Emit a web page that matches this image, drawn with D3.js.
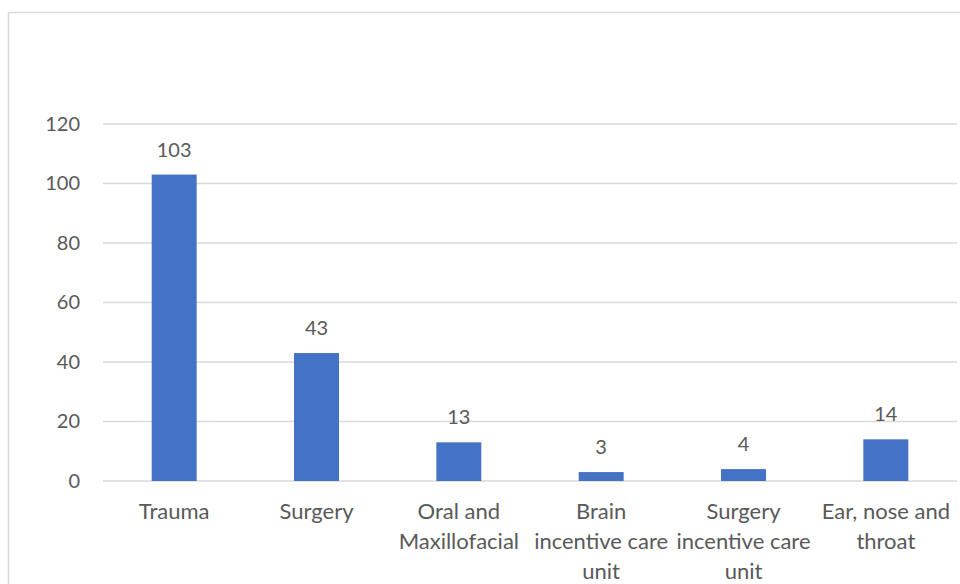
<html>
<head>
<script src="https://d3js.org/d3.v7.min.js"></script>
<style>
body { margin: 0; background: #fff; }
text { font-family: Lato, "Open Sans", sans-serif; fill: #595959; }
</style>
</head>
<body>
<svg width="960" height="584"></svg>
<script>
// chart data
var categories = [
    ["Trauma"],
    ["Surgery"],
    ["Oral and", "Maxillofacial"],
    ["Brain", "incentive care", "unit"],
    ["Surgery", "incentive care", "unit"],
    ["Ear, nose and", "throat"]
];
var counts = [103, 43, 13, 3, 4, 14];
var yTicks = [0, 20, 40, 60, 80, 100, 120];

var svg = d3.select("svg");

// outer chart border
svg.append("rect")
    .attr("x", 8.5).attr("y", 12.5)
    .attr("width", 960).attr("height", 600)
    .attr("fill", "none").attr("stroke", "#d9d9d9").attr("stroke-width", 1.5);

var plotLeft = 103, plotRight = 957, plotTop = 124, plotBottom = 481;

var xScale = d3.scaleBand().domain(d3.range(counts.length)).range([plotLeft, plotRight]).padding(0);
var yScale = d3.scaleLinear().domain([0, 120]).range([plotBottom, plotTop]);

// gridlines
svg.append("g")
    .selectAll("line")
    .data(yTicks)
    .enter().append("line")
    .attr("x1", plotLeft).attr("x2", plotRight)
    .attr("y1", function (d) { return yScale(d); })
    .attr("y2", function (d) { return yScale(d); })
    .attr("stroke", "#d9d9d9").attr("stroke-width", 1.5);

// y axis labels
var yAxis = svg.append("g")
    .attr("transform", "translate(" + plotLeft + ",0)")
    .call(d3.axisLeft(yScale).tickValues(yTicks).tickSize(0).tickPadding(23));
yAxis.select(".domain").remove();
yAxis.selectAll("text").style("font-size", "20px").attr("fill", "#595959")
    .style("font-family", "Lato, sans-serif");

// bars
var barW = xScale.bandwidth() * 0.316;
svg.append("g")
    .selectAll("rect")
    .data(counts)
    .enter().append("rect")
    .attr("x", function (d, i) { return xScale(i) + xScale.bandwidth() / 2 - barW / 2; })
    .attr("y", function (d) { return yScale(d); })
    .attr("width", barW)
    .attr("height", function (d) { return yScale(0) - yScale(d); })
    .attr("fill", "#4472c4");

// value labels
svg.append("g")
    .selectAll("text")
    .data(counts)
    .enter().append("text")
    .attr("x", function (d, i) { return xScale(i) + xScale.bandwidth() / 2; })
    .attr("y", function (d) { return yScale(d) - 18; })
    .attr("text-anchor", "middle")
    .style("font-size", "20px")
    .text(function (d) { return d; });

// category labels
var cat = svg.append("g")
    .selectAll("text")
    .data(categories)
    .enter().append("text")
    .attr("x", function (d, i) { return xScale(i) + xScale.bandwidth() / 2; })
    .attr("y", 519)
    .attr("text-anchor", "middle")
    .style("font-size", "22px");
cat.selectAll("tspan")
    .data(function (d) { return d; })
    .enter().append("tspan")
    .attr("x", function () { return d3.select(this.parentNode).attr("x"); })
    .attr("dy", function (d, i) { return i == 0 ? 0 : 30; })
    .text(function (d) { return d; });
</script>
</body>
</html>
